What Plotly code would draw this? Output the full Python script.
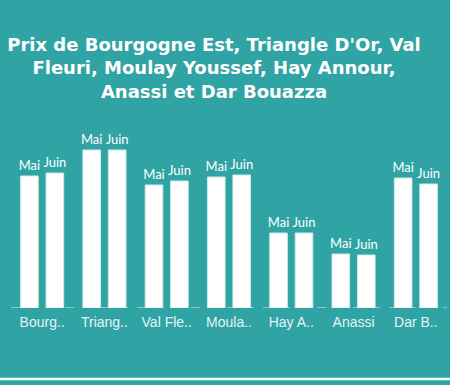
import plotly.graph_objects as go

categories = ["Bourg..", "Triang..", "Val Fle..", "Moula..", "Hay A..", "Anassi", "Dar B.."]
mai_values = [13200, 15800, 12300, 13100, 7500, 5400, 13000]
juin_values = [13500, 15800, 12700, 13300, 7500, 5300, 12400]
series_names = ["Mai", "Juin"]

BG = "#30a4a4"

fig = go.Figure()
for name, vals in zip(series_names, [mai_values, juin_values]):
    fig.add_trace(go.Bar(
        x=categories, y=vals, name=name,
        text=[name] * len(vals), textposition="outside",
        textfont=dict(family="Lato", size=13, color="#ffffff"),
        constraintext="none",
        cliponaxis=False,
        marker=dict(color="#ffffff", line=dict(color="#cfe9e9", width=1)),
        hoverinfo="skip",
    ))

fig.update_layout(
    width=450, height=385,
    paper_bgcolor=BG, plot_bgcolor=BG,
    margin=dict(l=11, r=3, t=110, b=77),
    barmode="group", bargap=0.183, bargroupgap=0.307,
    showlegend=False,
    title=dict(
        text="Prix de Bourgogne Est, Triangle D'Or, Val<br>Fleuri, Moulay Youssef, Hay Annour,<br>Anassi et Dar Bouazza",
        x=214 / 450, xref="container", xanchor="center",
        y=1 - 51 / 385, yref="container", yanchor="middle",
        font=dict(family="DejaVu Sans", size=18, color="#ffffff", weight="bold"),
    ),
    xaxis=dict(showgrid=False, showline=False, zeroline=False, ticks="",
               ticklabelstandoff=4,
               tickfont=dict(family="Liberation Sans, Arial", size=14, color="#e6f3f3")),
    yaxis=dict(range=[0, 19800], visible=False, showgrid=False, zeroline=False),
    shapes=[
        dict(type="line", xref="paper", yref="y", x0=0, x1=1, y0=0, y1=0,
             line=dict(color="#a6d8d8", width=1.5, dash="dash"), layer="below"),
        dict(type="line", xref="paper", yref="paper", x0=-0.1, x1=1.1,
             y0=(308 - 379) / 198, y1=(308 - 379) / 198,
             line=dict(color="#ffffff", width=2.5)),
    ],
)

fig.write_html(
    "out.html",
    config={"displayModeBar": False},
    post_script="document.body.style.margin='0';document.body.style.padding='0';document.body.style.background='#30a4a4';",
)
